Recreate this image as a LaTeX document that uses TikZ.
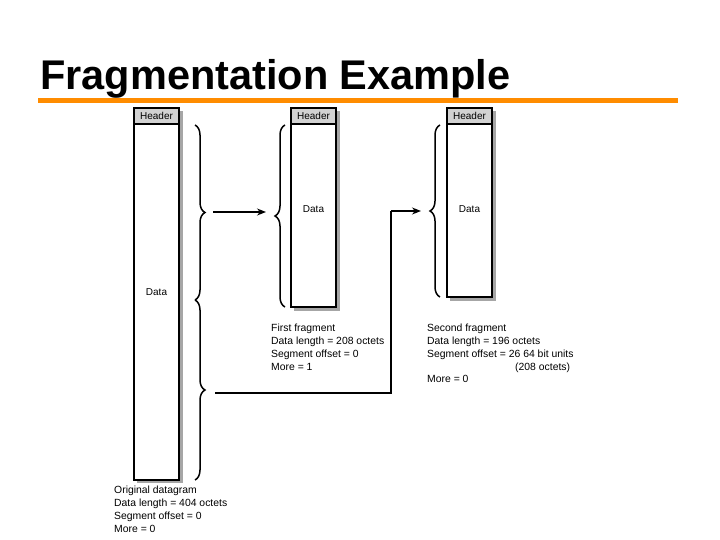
\documentclass[tikz,border=0pt]{standalone}
\usepackage{fontspec}
\setmainfont{Liberation Sans}
\usetikzlibrary{decorations.pathreplacing,arrows.meta}
\begin{document}
\begin{tikzpicture}[x=1pt,y=-1pt,
  shadow/.style={fill=gray!70,draw=none},
  box/.style={draw,line width=1.3pt,fill=white},
  hdr/.style={draw,line width=1.3pt,fill=gray!35},
  lbl/.style={font=\fontsize{10.4}{12.8}\selectfont,align=left,anchor=north west,inner sep=0},
  br/.style={decorate,decoration={brace,amplitude=10pt},line width=1.5pt},
  arr/.style={line width=1.3pt,-{Stealth[length=9pt,width=7pt]}}]
\useasboundingbox (0,0) rectangle (720,540);
\node[font=\fontsize{41.5}{44}\selectfont\bfseries,anchor=base west,inner sep=0] (title) at (40,90) {Fragmentation Example};
\draw[line width=5pt,color=orange!90!yellow] (38,101) -- (678,101);
% original
\fill[shadow] (137,111) rectangle (183,483);
\draw[box] (134,124) rectangle (179,480);
\draw[hdr] (134,108) rectangle (179,124);
\node[font=\fontsize{10}{11}\selectfont] (h0) at (156.5,116) {Header};
\node[font=\fontsize{10}{11}\selectfont] (d0) at (156.5,292) {Data};
% fragment 1
\fill[shadow] (294,111) rectangle (340,311);
\draw[box] (291,124) rectangle (336,307);
\draw[hdr] (291,108) rectangle (336,124);
\node[font=\fontsize{10}{11}\selectfont] (h1) at (313.5,116) {Header};
\node[font=\fontsize{10}{11}\selectfont] (d1) at (313.5,209) {Data};
% fragment 2
\fill[shadow] (450,111) rectangle (496,301);
\draw[box] (447,124) rectangle (492,297);
\draw[hdr] (447,108) rectangle (492,124);
\node[font=\fontsize{10}{11}\selectfont] (h2) at (469.5,116) {Header};
\node[font=\fontsize{10}{11}\selectfont] (d2) at (469.5,209) {Data};
% braces
\draw[br] (195,125) -- (195,300);
\draw[br] (195,300) -- (195,480);
\draw[br] (285,307) -- (285,125);
\draw[br] (440,297) -- (440,125);
\coordinate (k1) at (213,212);
\coordinate (k2) at (266,212);
\coordinate (k3) at (215,393);
\coordinate (k4) at (391,393);
\coordinate (k5) at (391,211);
\coordinate (k6) at (421,211);
\draw[arr] (k1) -- (k2);
\draw[line width=1.3pt] (k3) -- (k4) -- (k5);
\draw[arr] (k5) -- (k6);
% labels
\node[lbl] (t1) at (271,324) {First fragment\\Data length = 208 octets\\Segment offset = 0\\More = 1};
\node[lbl] (t2) at (427,324) {Second fragment\\Data length = 196 octets\\Segment offset = 26 64 bit units\\\hspace*{88pt}(208 octets)\\More = 0};
\node[lbl] (t0) at (114,486) {Original datagram\\Data length = 404 octets\\Segment offset = 0\\More = 0};
\end{tikzpicture}
\end{document}
